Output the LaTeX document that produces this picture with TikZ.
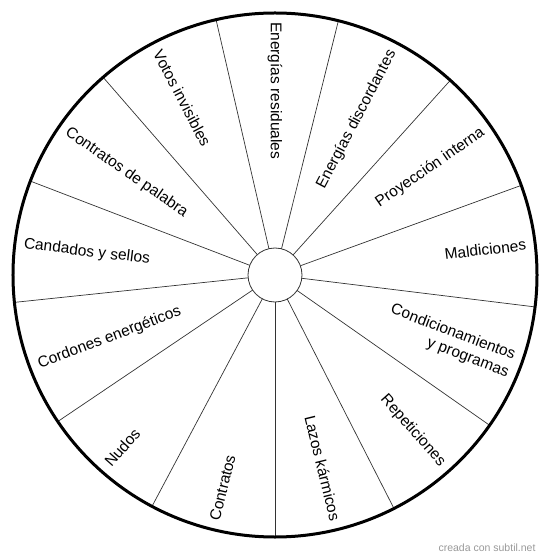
\documentclass[tikz,border=0pt]{standalone}
\usepackage{fontspec}
\setmainfont{Liberation Sans}
\usepackage{tikz}
\usetikzlibrary{shapes,positioning}

\tikzset{
  spoke/.style={draw=black!80, line width=0.7pt},
  lblout/.style={font=\fontsize{15.5}{18.5}\selectfont, inner sep=0pt, anchor=east, align=right},
  lblin/.style={font=\fontsize{15.5}{18.5}\selectfont, inner sep=0pt, anchor=west, align=left},
}

\begin{document}
\begin{tikzpicture}[x=1pt, y=1pt]
    \useasboundingbox (-275,-284) rectangle (275,275);
    \node [circle, draw=black!80, line width=0.8pt, minimum size=54pt, inner sep=0pt, outer sep=0pt] (hub) at (0,0) {};
    \node [circle, minimum size=524pt, inner sep=0pt, outer sep=0pt] (rim) at (0,0) {};

    % spokes between the sectors
    \foreach \a in {0,...,12}
        \draw [spoke] (hub.{270+\a*360/13}) -- (rim.{270+\a*360/13});
    \draw [line width=3pt] (0,0) circle (262);

    % labels, right half
    \node [lblout, rotate=62.31] (l1) at (62.31:253) {Energías discordantes};
    \node [lblout, rotate=34.62] (l2) at (34.62:253) {Proyección interna};
    \node [lblout, rotate=6.92] (l3) at (6.92:253) {Maldiciones};
    \node [lblout, rotate=-20.77] (l4) at (-20.77:253) {Condicionamientos\\y programas};
    \node [lblout, rotate=-48.46] (l5) at (-48.46:253) {Repeticiones};
    \node [lblout, rotate=-76.15] (l6) at (-76.15:253) {Lazos kármicos};

    % labels, left half
    \node [lblin, rotate=-90] (l0) at (90:253) {Energías residuales};
    \node [lblin, rotate=76.15] (l7) at (256.15:253) {Contratos};
    \node [lblin, rotate=48.46] (l8) at (228.46:253) {Nudos};
    \node [lblin, rotate=20.77] (l9) at (200.77:253) {Cordones energéticos};
    \node [lblin, rotate=-6.92] (l10) at (173.08:253) {Candados y sellos};
    \node [lblin, rotate=-34.62] (l11) at (145.38:253) {Contratos de palabra};
    \node [lblin, rotate=-62.31] (l12) at (117.69:253) {Votos invisibles};

    \node [font=\fontsize{10.5}{12}\selectfont, text=black!40, inner sep=0pt] (credit) at (212,-273) {creada con subtil.net};
\end{tikzpicture}
\end{document}
